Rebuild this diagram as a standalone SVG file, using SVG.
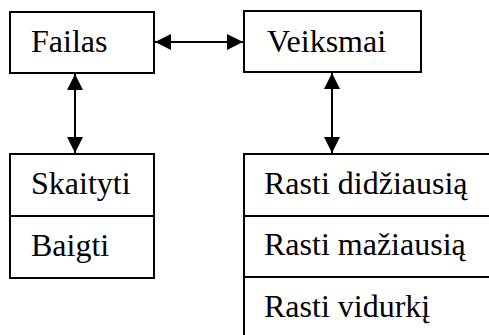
<svg xmlns="http://www.w3.org/2000/svg" width="489" height="335" viewBox="0 0 489 335">
  <style>
    .box { fill: #ffffff; stroke: #000000; stroke-width: 2; }
    .sep { stroke: #000000; stroke-width: 2; fill: none; }
    .lbl { font-family: 'Times New Roman', 'Liberation Serif', 'DejaVu Serif', serif; font-size: 32px; fill: #000000; }
    .link { stroke: #000000; stroke-width: 2; fill: none; marker-start: url(#head); marker-end: url(#head); }
  </style>
  <defs>
    <marker id="head" viewBox="0 0 16 16" refX="16" refY="8" markerWidth="16" markerHeight="16" markerUnits="userSpaceOnUse" orient="auto-start-reverse">
      <path d="M0,0 L16,8 L0,16 Z" fill="#000000"/>
    </marker>
  </defs>

  <g id="failas">
    <rect class="box" x="10" y="12" width="144" height="61"/>
    <text class="lbl" x="31" y="52">Failas</text>
  </g>

  <g id="veiksmai">
    <rect class="box" x="244" y="11" width="177" height="61"/>
    <text class="lbl" x="267" y="52">Veiksmai</text>
  </g>

  <g id="failo-meniu">
    <rect class="box" x="10" y="154" width="144" height="124"/>
    <line class="sep" x1="10" y1="216" x2="154" y2="216"/>
    <text class="lbl" x="31" y="194">Skaityti</text>
    <text class="lbl" x="31" y="256">Baigti</text>
  </g>

  <g id="veiksmu-meniu">
    <rect class="box" x="244" y="154" width="260" height="200"/>
    <line class="sep" x1="244" y1="216" x2="489" y2="216"/>
    <line class="sep" x1="244" y1="277" x2="489" y2="277"/>
    <text class="lbl" x="264" y="194">Rasti didžiausią</text>
    <text class="lbl" x="264" y="255">Rasti mažiausią</text>
    <text class="lbl" x="264" y="317">Rasti vidurkį</text>
  </g>

  <g id="connectors">
    <line class="link" x1="155" y1="42" x2="243" y2="42"/>
    <line class="link" x1="75" y1="74" x2="75" y2="153"/>
    <line class="link" x1="332" y1="73" x2="332" y2="153"/>
  </g>
</svg>
